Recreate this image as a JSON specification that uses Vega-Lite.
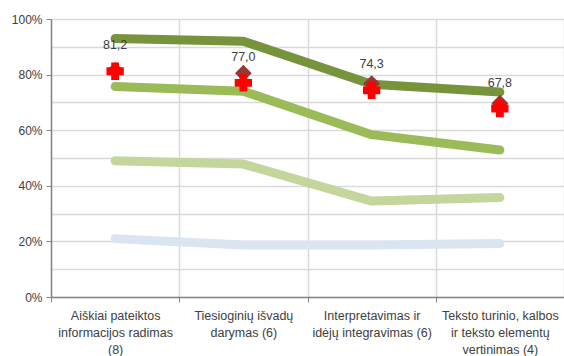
{
  "$schema": "https://vega.github.io/schema/vega-lite/v6.json",
  "width": 513,
  "height": 278,
  "autosize": {"type": "none"},
  "padding": {"left": 51, "top": 19, "right": 0, "bottom": 59},
  "background": "white",
  "config": {"view": {"stroke": null}, "font": "Liberation Sans"},
  "datasets": {
    "lines": [
      {"cat": "Aiškiai pateiktos|informacijos radimas|(8)", "series": "A", "value": 0.93},
      {"cat": "Tiesioginių išvadų|darymas (6)", "series": "A", "value": 0.92},
      {"cat": "Interpretavimas ir|idėjų integravimas (6)", "series": "A", "value": 0.765},
      {"cat": "Teksto turinio, kalbos|ir  teksto elementų|vertinimas (4)", "series": "A", "value": 0.737},
      {"cat": "Aiškiai pateiktos|informacijos radimas|(8)", "series": "B", "value": 0.757},
      {"cat": "Tiesioginių išvadų|darymas (6)", "series": "B", "value": 0.74},
      {"cat": "Interpretavimas ir|idėjų integravimas (6)", "series": "B", "value": 0.584},
      {"cat": "Teksto turinio, kalbos|ir  teksto elementų|vertinimas (4)", "series": "B", "value": 0.529},
      {"cat": "Aiškiai pateiktos|informacijos radimas|(8)", "series": "C", "value": 0.49},
      {"cat": "Tiesioginių išvadų|darymas (6)", "series": "C", "value": 0.478},
      {"cat": "Interpretavimas ir|idėjų integravimas (6)", "series": "C", "value": 0.345},
      {"cat": "Teksto turinio, kalbos|ir  teksto elementų|vertinimas (4)", "series": "C", "value": 0.358},
      {"cat": "Aiškiai pateiktos|informacijos radimas|(8)", "series": "D", "value": 0.21},
      {"cat": "Tiesioginių išvadų|darymas (6)", "series": "D", "value": 0.187},
      {"cat": "Interpretavimas ir|idėjų integravimas (6)", "series": "D", "value": 0.187},
      {"cat": "Teksto turinio, kalbos|ir  teksto elementų|vertinimas (4)", "series": "D", "value": 0.192}
    ],
    "diamonds": [
      {"cat": "Aiškiai pateiktos|informacijos radimas|(8)", "value": 0.815},
      {"cat": "Tiesioginių išvadų|darymas (6)", "value": 0.805},
      {"cat": "Interpretavimas ir|idėjų integravimas (6)", "value": 0.768},
      {"cat": "Teksto turinio, kalbos|ir  teksto elementų|vertinimas (4)", "value": 0.697}
    ],
    "plus": [
      {"cat": "Aiškiai pateiktos|informacijos radimas|(8)", "value": 0.812, "label": "81,2"},
      {"cat": "Tiesioginių išvadų|darymas (6)", "value": 0.77, "label": "77,0"},
      {"cat": "Interpretavimas ir|idėjų integravimas (6)", "value": 0.743, "label": "74,3"},
      {"cat": "Teksto turinio, kalbos|ir  teksto elementų|vertinimas (4)", "value": 0.678, "label": "67,8"}
    ]
  },
  "encoding": {
    "x": {
      "field": "cat",
      "type": "nominal",
      "sort": null,
      "title": null,
      "scale": {"type": "band", "paddingInner": 0, "paddingOuter": 0},
      "axis": {
        "labelAngle": 0,
        "labelExpr": "datum.value ? split(datum.value, '|') : ''",
        "labelFontSize": 12.5,
        "labelColor": "#404040",
        "labelLineHeight": 17,
        "labelBaseline": "top",
        "labelPadding": 7,
        "tickBand": "extent",
        "tickSize": 5,
        "tickColor": "#868686",
        "domainColor": "#868686",
        "domainWidth": 1.5,
        "grid": true,
        "gridColor": "#d9d9d9",
        "gridWidth": 1.5
      }
    },
    "y": {
      "field": "value",
      "type": "quantitative",
      "title": null,
      "scale": {"domain": [0, 1], "nice": false},
      "axis": {
        "values": [0, 0.1, 0.2, 0.3, 0.4, 0.5, 0.6, 0.7, 0.8, 0.9, 1],
        "format": ".0%",
        "labelExpr": "round(datum.value*10) % 2 == 0 ? datum.label : ''",
        "tickOpacity": {"condition": {"test": "round(datum.value*10) % 2 == 0", "value": 1}, "value": 0},
        "labelFontSize": 12,
        "labelColor": "#404040",
        "labelPadding": 4,
        "tickSize": 5,
        "tickColor": "#868686",
        "domainColor": "#868686",
        "domainWidth": 1.5,
        "gridColor": "#d9d9d9",
        "gridWidth": 1.5
      }
    }
  },
  "layer": [
    {
      "data": {"name": "lines"},
      "mark": {"type": "line", "strokeWidth": 9, "strokeCap": "round", "strokeJoin": "round"},
      "encoding": {
        "color": {
          "field": "series",
          "type": "nominal",
          "legend": null,
          "scale": {"domain": ["A", "B", "C", "D"], "range": ["#77933C", "#9BBB59", "#C3D69B", "#DBE5F1"]}
        }
      }
    },
    {
      "data": {"name": "diamonds"},
      "mark": {"type": "point", "shape": "diamond", "filled": true, "size": 280, "color": "#953735", "opacity": 1}
    },
    {
      "data": {"name": "plus"},
      "mark": {"type": "point", "shape": "cross", "filled": true, "size": 250, "color": "#FF0000", "stroke": "#FF0000", "strokeWidth": 1.5, "opacity": 1}
    },
    {
      "data": {"name": "plus"},
      "mark": {"type": "text", "dy": -26, "fontSize": 12.5, "color": "#404040"},
      "encoding": {"text": {"field": "label"}}
    }
  ]
}
